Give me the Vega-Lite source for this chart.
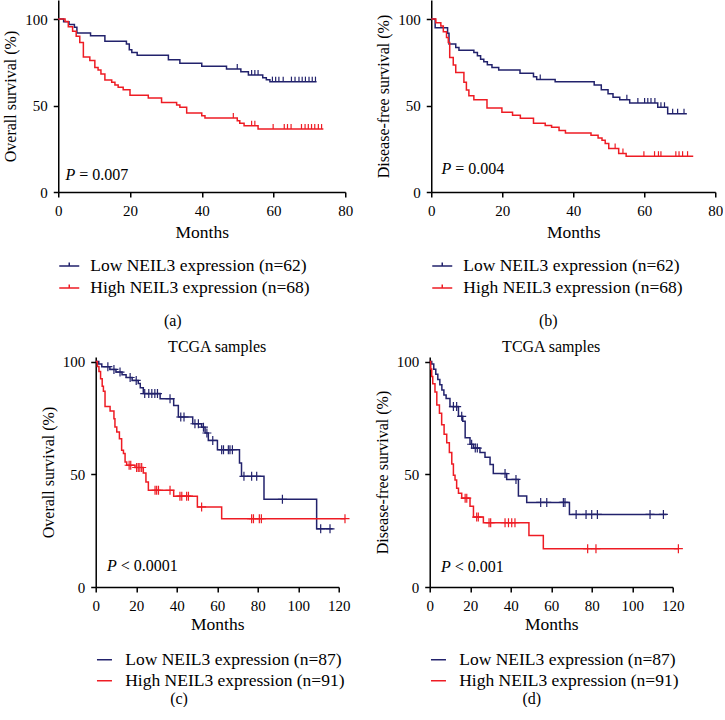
{
"$schema":"https://vega.github.io/schema/vega-lite/v6.json",
"padding":{"left":2,"top":0,"right":0,"bottom":0},
"background":"white",
"config":{
 "font":"Liberation Serif",
 "view":{"stroke":null},
 "axis":{"grid":false,"domainColor":"black","tickColor":"black","labelColor":"black","titleColor":"black","domainWidth":1.5,"tickWidth":1.5,"tickSize":5,"labelFontSize":15,"titleFontSize":16,"titleFontWeight":"normal","labelPadding":6,"labelFont":"Liberation Serif","titleFont":"Liberation Serif","labelFlush":false},
 "axisX":{"titleFontSize":17.5,"titlePadding":5,"titleFontWeight":"normal"},
 "axisY":{"titlePadding":6,"titleFontWeight":"normal"},
 "legend":{"orient":"bottom","direction":"vertical","labelFontSize":17.5,"labelFont":"Liberation Serif","labelColor":"black","symbolStrokeWidth":1.5,"rowPadding":2,"offset":14,"labelLimit":400},
 "title":{"font":"Liberation Serif","fontSize":16,"fontWeight":"normal","color":"black"}
},
"datasets":{
 "a":[
  {"g":"L","t":0,"s":100,"c":0},{"g":"L","t":1.5,"s":98.4,"c":0},{"g":"L","t":3,"s":96.8,"c":0},{"g":"L","t":4.5,"s":95.2,"c":0},{"g":"L","t":5.2,"s":91.9,"c":0},{"g":"L","t":9,"s":90.3,"c":0},{"g":"L","t":13,"s":87.1,"c":0},{"g":"L","t":19,"s":85.5,"c":0},{"g":"L","t":19.8,"s":82.3,"c":0},{"g":"L","t":20.5,"s":80.6,"c":0},{"g":"L","t":22,"s":79,"c":0},{"g":"L","t":30.7,"s":76.5,"c":0},{"g":"L","t":33.9,"s":74.4,"c":0},{"g":"L","t":40,"s":72.7,"c":0},{"g":"L","t":46.9,"s":71.1,"c":0},{"g":"L","t":49.9,"s":71.1,"c":1},{"g":"L","t":50.9,"s":69.5,"c":0},{"g":"L","t":53,"s":67.6,"c":0},{"g":"L","t":53.9,"s":67.6,"c":1},{"g":"L","t":54.8,"s":67.6,"c":1},{"g":"L","t":55.7,"s":67.6,"c":1},{"g":"L","t":57,"s":66.1,"c":0},{"g":"L","t":58,"s":64.9,"c":0},{"g":"L","t":59,"s":63.8,"c":0},{"g":"L","t":59.7,"s":63.8,"c":1},{"g":"L","t":60.6,"s":63.8,"c":1},{"g":"L","t":61.5,"s":63.8,"c":1},{"g":"L","t":62.7,"s":63.8,"c":1},{"g":"L","t":65,"s":63.8,"c":1},{"g":"L","t":66,"s":63.8,"c":1},{"g":"L","t":67.1,"s":63.8,"c":1},{"g":"L","t":68,"s":63.8,"c":1},{"g":"L","t":68.9,"s":63.8,"c":1},{"g":"L","t":69.9,"s":63.8,"c":1},{"g":"L","t":70.8,"s":63.8,"c":1},{"g":"L","t":71.7,"s":63.8,"c":1},{"g":"L","t":72,"s":63.8,"c":0},
  {"g":"H","t":0,"s":100,"c":0},{"g":"H","t":1.9,"s":98.5,"c":0},{"g":"H","t":2.8,"s":95.5,"c":0},{"g":"H","t":4,"s":93,"c":0},{"g":"H","t":5,"s":90,"c":0},{"g":"H","t":6,"s":86.5,"c":0},{"g":"H","t":7,"s":78,"c":0},{"g":"H","t":8.8,"s":76,"c":0},{"g":"H","t":10.2,"s":72,"c":0},{"g":"H","t":11.1,"s":70.5,"c":0},{"g":"H","t":11.9,"s":68.2,"c":0},{"g":"H","t":13,"s":64.7,"c":0},{"g":"H","t":14.9,"s":63.4,"c":0},{"g":"H","t":15.8,"s":61.8,"c":0},{"g":"H","t":16.7,"s":60.5,"c":0},{"g":"H","t":18.1,"s":59.1,"c":0},{"g":"H","t":20,"s":56,"c":0},{"g":"H","t":25.1,"s":54.3,"c":0},{"g":"H","t":28.8,"s":51.8,"c":0},{"g":"H","t":33,"s":50.3,"c":0},{"g":"H","t":33.9,"s":49,"c":0},{"g":"H","t":35.8,"s":45.7,"c":0},{"g":"H","t":40,"s":44.1,"c":0},{"g":"H","t":40.9,"s":42.8,"c":0},{"g":"H","t":48.8,"s":42.8,"c":1},{"g":"H","t":49.9,"s":41.2,"c":0},{"g":"H","t":50.6,"s":39.7,"c":0},{"g":"H","t":51.8,"s":38.3,"c":0},{"g":"H","t":53.9,"s":38.3,"c":1},{"g":"H","t":54.8,"s":38.3,"c":1},{"g":"H","t":55.7,"s":36.4,"c":0},{"g":"H","t":59.9,"s":36.4,"c":1},{"g":"H","t":63,"s":36.4,"c":1},{"g":"H","t":63.9,"s":36.4,"c":1},{"g":"H","t":64.9,"s":36.4,"c":1},{"g":"H","t":67.8,"s":36.4,"c":1},{"g":"H","t":68.8,"s":36.4,"c":1},{"g":"H","t":69.7,"s":36.4,"c":1},{"g":"H","t":70.6,"s":36.4,"c":1},{"g":"H","t":71.5,"s":36.4,"c":1},{"g":"H","t":72.5,"s":36.4,"c":1},{"g":"H","t":73.4,"s":36.4,"c":1},{"g":"H","t":73.9,"s":36.4,"c":0}
 ],
 "b":[
  {"g":"L","t":0,"s":100,"c":0},{"g":"L","t":1.1,"s":95,"c":0},{"g":"L","t":4.6,"s":91.8,"c":0},{"g":"L","t":5,"s":85.5,"c":0},{"g":"L","t":6.9,"s":83.5,"c":0},{"g":"L","t":7.8,"s":82,"c":0},{"g":"L","t":12,"s":80.6,"c":0},{"g":"L","t":13,"s":78.7,"c":0},{"g":"L","t":13.9,"s":76.8,"c":0},{"g":"L","t":14.8,"s":75.3,"c":0},{"g":"L","t":15.8,"s":73.6,"c":0},{"g":"L","t":17.1,"s":72,"c":0},{"g":"L","t":19,"s":70.5,"c":0},{"g":"L","t":25,"s":68.6,"c":0},{"g":"L","t":28.8,"s":66.7,"c":0},{"g":"L","t":29.7,"s":65.1,"c":0},{"g":"L","t":30.7,"s":65.1,"c":1},{"g":"L","t":34.9,"s":63.8,"c":0},{"g":"L","t":45.9,"s":61.9,"c":0},{"g":"L","t":47.9,"s":59.1,"c":0},{"g":"L","t":49.8,"s":56.8,"c":0},{"g":"L","t":51.2,"s":54.8,"c":0},{"g":"L","t":53.1,"s":53.4,"c":0},{"g":"L","t":55.1,"s":53.4,"c":1},{"g":"L","t":55.9,"s":51.5,"c":0},{"g":"L","t":58.2,"s":51.5,"c":1},{"g":"L","t":60.1,"s":51.5,"c":1},{"g":"L","t":61,"s":51.5,"c":1},{"g":"L","t":61.9,"s":51.5,"c":1},{"g":"L","t":63,"s":51.5,"c":1},{"g":"L","t":63.8,"s":49,"c":0},{"g":"L","t":64.7,"s":49,"c":1},{"g":"L","t":65.7,"s":49,"c":1},{"g":"L","t":66.6,"s":45.2,"c":0},{"g":"L","t":68,"s":45.2,"c":1},{"g":"L","t":69.4,"s":45.2,"c":1},{"g":"L","t":71.2,"s":45.2,"c":1},{"g":"L","t":72,"s":45.2,"c":0},
  {"g":"H","t":0,"s":100,"c":0},{"g":"H","t":1.3,"s":97.9,"c":0},{"g":"H","t":2.7,"s":96,"c":0},{"g":"H","t":3.4,"s":92.7,"c":0},{"g":"H","t":4.3,"s":89.3,"c":0},{"g":"H","t":4.8,"s":86.4,"c":0},{"g":"H","t":5.2,"s":77.8,"c":0},{"g":"H","t":6.2,"s":73.4,"c":0},{"g":"H","t":6.9,"s":69.1,"c":0},{"g":"H","t":9.2,"s":63.4,"c":0},{"g":"H","t":9.9,"s":59,"c":0},{"g":"H","t":10.6,"s":55.7,"c":0},{"g":"H","t":12,"s":53.3,"c":0},{"g":"H","t":15.7,"s":48.5,"c":0},{"g":"H","t":19.9,"s":46.1,"c":0},{"g":"H","t":22.9,"s":44.3,"c":0},{"g":"H","t":25.1,"s":42.7,"c":0},{"g":"H","t":28.8,"s":39.8,"c":0},{"g":"H","t":32.1,"s":38.5,"c":0},{"g":"H","t":33.9,"s":37.5,"c":0},{"g":"H","t":36,"s":35.6,"c":0},{"g":"H","t":37.8,"s":34.1,"c":0},{"g":"H","t":45,"s":32.8,"c":0},{"g":"H","t":47,"s":31.2,"c":0},{"g":"H","t":48.1,"s":29.9,"c":0},{"g":"H","t":49,"s":28,"c":0},{"g":"H","t":50,"s":25.1,"c":0},{"g":"H","t":51.8,"s":25.1,"c":1},{"g":"H","t":52.8,"s":22.2,"c":0},{"g":"H","t":54,"s":22.2,"c":1},{"g":"H","t":54.9,"s":20.7,"c":0},{"g":"H","t":59.9,"s":20.7,"c":1},{"g":"H","t":62.9,"s":20.7,"c":1},{"g":"H","t":64,"s":20.7,"c":1},{"g":"H","t":64.7,"s":20.7,"c":1},{"g":"H","t":68.9,"s":20.7,"c":1},{"g":"H","t":69.8,"s":20.7,"c":1},{"g":"H","t":70.8,"s":20.7,"c":1},{"g":"H","t":72.2,"s":20.7,"c":1},{"g":"H","t":73.8,"s":20.7,"c":0}
 ],
 "c":[
  {"g":"L","t":0,"s":100,"c":0},{"g":"L","t":1.5,"s":98.9,"c":0},{"g":"L","t":3,"s":97.7,"c":0},{"g":"L","t":6,"s":97.7,"c":1},{"g":"L","t":7,"s":96.5,"c":0},{"g":"L","t":9,"s":96.5,"c":1},{"g":"L","t":10,"s":95.3,"c":0},{"g":"L","t":12,"s":95.3,"c":1},{"g":"L","t":13,"s":94.1,"c":0},{"g":"L","t":15,"s":92.9,"c":0},{"g":"L","t":17,"s":92.9,"c":1},{"g":"L","t":18,"s":91.6,"c":0},{"g":"L","t":20,"s":91.6,"c":1},{"g":"L","t":21,"s":90.3,"c":0},{"g":"L","t":22,"s":88.4,"c":0},{"g":"L","t":23.5,"s":85.8,"c":0},{"g":"L","t":24.2,"s":85.8,"c":1},{"g":"L","t":26.2,"s":85.8,"c":1},{"g":"L","t":27.7,"s":85.8,"c":1},{"g":"L","t":29.2,"s":85.8,"c":1},{"g":"L","t":30.5,"s":85.8,"c":1},{"g":"L","t":31.8,"s":83.5,"c":0},{"g":"L","t":36.7,"s":83.5,"c":1},{"g":"L","t":38.5,"s":80.5,"c":0},{"g":"L","t":40.8,"s":75.4,"c":0},{"g":"L","t":42,"s":75.4,"c":1},{"g":"L","t":43.6,"s":75.4,"c":1},{"g":"L","t":47.9,"s":72.4,"c":0},{"g":"L","t":49,"s":72.4,"c":1},{"g":"L","t":50.7,"s":72.4,"c":1},{"g":"L","t":52.3,"s":70.9,"c":0},{"g":"L","t":53.2,"s":70.9,"c":1},{"g":"L","t":54,"s":68.3,"c":0},{"g":"L","t":54.9,"s":68.3,"c":1},{"g":"L","t":55.6,"s":65,"c":0},{"g":"L","t":57.8,"s":65,"c":1},{"g":"L","t":60.1,"s":60.9,"c":0},{"g":"L","t":62.2,"s":60.9,"c":1},{"g":"L","t":63.1,"s":60.9,"c":1},{"g":"L","t":65.5,"s":60.9,"c":1},{"g":"L","t":66.3,"s":60.9,"c":1},{"g":"L","t":67.5,"s":60.9,"c":1},{"g":"L","t":71,"s":55,"c":0},{"g":"L","t":72,"s":49.1,"c":0},{"g":"L","t":73.2,"s":49.1,"c":1},{"g":"L","t":77,"s":49.1,"c":1},{"g":"L","t":79.5,"s":49.1,"c":1},{"g":"L","t":83.1,"s":38.9,"c":0},{"g":"L","t":92.2,"s":38.9,"c":1},{"g":"L","t":109.1,"s":25.8,"c":0},{"g":"L","t":111.1,"s":25.8,"c":1},{"g":"L","t":115.7,"s":25.8,"c":1},{"g":"L","t":117,"s":25.8,"c":0},
  {"g":"H","t":0,"s":100,"c":0},{"g":"H","t":0.8,"s":97.8,"c":0},{"g":"H","t":1.6,"s":95.6,"c":0},{"g":"H","t":2.4,"s":92.3,"c":0},{"g":"H","t":3.2,"s":89,"c":0},{"g":"H","t":3.8,"s":86.8,"c":0},{"g":"H","t":4.6,"s":80,"c":0},{"g":"H","t":7.1,"s":78,"c":0},{"g":"H","t":9,"s":74.6,"c":0},{"g":"H","t":9.5,"s":71,"c":0},{"g":"H","t":10.4,"s":68.7,"c":0},{"g":"H","t":11.7,"s":65.8,"c":0},{"g":"H","t":12.8,"s":60.6,"c":0},{"g":"H","t":13.7,"s":59.2,"c":0},{"g":"H","t":14.5,"s":55.4,"c":0},{"g":"H","t":15.3,"s":54,"c":0},{"g":"H","t":16.5,"s":54,"c":1},{"g":"H","t":17.3,"s":54,"c":1},{"g":"H","t":19.4,"s":53,"c":0},{"g":"H","t":20.2,"s":53,"c":1},{"g":"H","t":21,"s":53,"c":1},{"g":"H","t":21.8,"s":53,"c":1},{"g":"H","t":22.7,"s":53,"c":1},{"g":"H","t":23.5,"s":50.6,"c":0},{"g":"H","t":24.8,"s":46.6,"c":0},{"g":"H","t":26,"s":42.9,"c":0},{"g":"H","t":29.3,"s":42.9,"c":1},{"g":"H","t":30.1,"s":42.9,"c":1},{"g":"H","t":31,"s":42.9,"c":1},{"g":"H","t":36.7,"s":42.9,"c":1},{"g":"H","t":38.5,"s":40.3,"c":0},{"g":"H","t":41.6,"s":40.3,"c":1},{"g":"H","t":42.5,"s":40.3,"c":1},{"g":"H","t":44.9,"s":40.3,"c":1},{"g":"H","t":45.8,"s":40.3,"c":1},{"g":"H","t":50.2,"s":35.5,"c":0},{"g":"H","t":52.3,"s":35.5,"c":1},{"g":"H","t":62.2,"s":30.3,"c":0},{"g":"H","t":77,"s":30.3,"c":1},{"g":"H","t":77.9,"s":30.3,"c":1},{"g":"H","t":80.8,"s":30.3,"c":1},{"g":"H","t":81.8,"s":30.3,"c":1},{"g":"H","t":123.1,"s":30.3,"c":1}
 ],
 "d":[
  {"g":"L","t":0,"s":100,"c":0},{"g":"L","t":1,"s":98.9,"c":0},{"g":"L","t":2,"s":96.6,"c":0},{"g":"L","t":3,"s":94.3,"c":0},{"g":"L","t":4,"s":92,"c":0},{"g":"L","t":5,"s":89.7,"c":0},{"g":"L","t":6,"s":87.4,"c":0},{"g":"L","t":7,"s":85.1,"c":0},{"g":"L","t":8.1,"s":83.6,"c":0},{"g":"L","t":10,"s":80,"c":0},{"g":"L","t":11.7,"s":80,"c":1},{"g":"L","t":13.3,"s":80,"c":1},{"g":"L","t":14.2,"s":75.7,"c":0},{"g":"L","t":15.8,"s":75.7,"c":1},{"g":"L","t":16.3,"s":73.5,"c":0},{"g":"L","t":17.5,"s":66.2,"c":0},{"g":"L","t":19.9,"s":63.3,"c":0},{"g":"L","t":20.7,"s":63.3,"c":1},{"g":"L","t":21.6,"s":61.6,"c":0},{"g":"L","t":22.5,"s":61.6,"c":1},{"g":"L","t":23.5,"s":61.6,"c":1},{"g":"L","t":24.8,"s":59.7,"c":0},{"g":"L","t":27.3,"s":57.5,"c":0},{"g":"L","t":29.8,"s":54.3,"c":0},{"g":"L","t":31.4,"s":50.3,"c":0},{"g":"L","t":37.2,"s":50.3,"c":1},{"g":"L","t":38,"s":47.7,"c":0},{"g":"L","t":42.6,"s":47.7,"c":1},{"g":"L","t":43.8,"s":40.4,"c":0},{"g":"L","t":47.9,"s":37.5,"c":0},{"g":"L","t":54.8,"s":37.5,"c":1},{"g":"L","t":57.8,"s":37.5,"c":1},{"g":"L","t":66,"s":37.5,"c":1},{"g":"L","t":66.8,"s":37.5,"c":1},{"g":"L","t":69,"s":32.2,"c":0},{"g":"L","t":72.3,"s":32.2,"c":1},{"g":"L","t":77.2,"s":32.2,"c":1},{"g":"L","t":80,"s":32.2,"c":1},{"g":"L","t":82.8,"s":32.2,"c":1},{"g":"L","t":108.8,"s":32.2,"c":1},{"g":"L","t":115.4,"s":32.2,"c":1},{"g":"L","t":117,"s":32.2,"c":0},
  {"g":"H","t":0,"s":100,"c":0},{"g":"H","t":0.5,"s":96.7,"c":0},{"g":"H","t":1,"s":93.4,"c":0},{"g":"H","t":1.5,"s":90.1,"c":0},{"g":"H","t":2.6,"s":86.5,"c":0},{"g":"H","t":3.5,"s":80.7,"c":0},{"g":"H","t":4.8,"s":77,"c":0},{"g":"H","t":5.9,"s":72,"c":0},{"g":"H","t":7.1,"s":67.7,"c":0},{"g":"H","t":8.4,"s":64,"c":0},{"g":"H","t":9.7,"s":59.7,"c":0},{"g":"H","t":10.9,"s":54.6,"c":0},{"g":"H","t":11.7,"s":49.6,"c":0},{"g":"H","t":12.5,"s":47.4,"c":0},{"g":"H","t":13.3,"s":43.8,"c":0},{"g":"H","t":14.2,"s":41.6,"c":0},{"g":"H","t":15.8,"s":39.4,"c":0},{"g":"H","t":17.5,"s":39.4,"c":1},{"g":"H","t":18.3,"s":39.4,"c":1},{"g":"H","t":19.9,"s":35.8,"c":0},{"g":"H","t":21.6,"s":31,"c":0},{"g":"H","t":23.2,"s":31,"c":1},{"g":"H","t":24,"s":31,"c":1},{"g":"H","t":26.5,"s":28.5,"c":0},{"g":"H","t":29.3,"s":28.5,"c":1},{"g":"H","t":30.1,"s":28.5,"c":1},{"g":"H","t":37.2,"s":28.5,"c":1},{"g":"H","t":38.9,"s":28.5,"c":1},{"g":"H","t":40.5,"s":28.5,"c":1},{"g":"H","t":42.1,"s":28.5,"c":1},{"g":"H","t":49,"s":22.8,"c":0},{"g":"H","t":56.1,"s":17,"c":0},{"g":"H","t":78,"s":17,"c":1},{"g":"H","t":82.1,"s":17,"c":1},{"g":"H","t":122.8,"s":17,"c":1}
 ]
},
"spacing":9,
"center":true,
"resolve":{"scale":{"color":"independent"},"legend":{"color":"independent"}},
"vconcat":[
 {"hconcat":[
  {"title":{"text":"(a)","orient":"bottom","anchor":"middle","frame":"bounds","offset":16,"dx":-5},
   "resolve":{"scale":{"color":"independent"},"legend":{"color":"independent"}},
   "vconcat":[{
    "width":287,"height":192,
    "data":{"name":"a"},
    "encoding":{
     "x":{"field":"t","type":"quantitative","scale":{"domain":[0,80],"nice":false},"axis":{"values":[0,20,40,60,80],"title":"Months","titleFontWeight":"normal"}},
     "y":{"field":"s","type":"quantitative","scale":{"domain":[0,111],"nice":false},"axis":{"values":[0,50,100],"title":"Overall survival (%)","titleFontWeight":"normal"}}
    },
    "layer":[
     {"mark":{"type":"line","interpolate":"step-after","strokeWidth":1.5,"clip":false},
      "encoding":{"color":{"field":"g","type":"nominal","scale":{"domain":["L","H"],"range":["#22226c","#ee1c24"]},"legend":{"title":null,"symbolType":"M-1,0H1M0,0V-0.35","symbolSize":400,"labelOffset":10,"labelExpr":"datum.label == 'L' ? 'Low NEIL3 expression (n=62)' : 'High NEIL3 expression (n=68)'"}}}},
     {"transform":[{"filter":"datum.c == 1"}],
      "mark":{"type":"point","shape":"M0,0V-1","size":100,"strokeWidth":1.2,"opacity":1,"filled":false},
      "encoding":{"color":{"field":"g","type":"nominal","scale":{"domain":["L","H"],"range":["#22226c","#ee1c24"]},"legend":{"title":null,"symbolType":"M-1,0H1M0,0V-0.35","symbolSize":400,"labelOffset":10,"labelExpr":"datum.label == 'L' ? 'Low NEIL3 expression (n=62)' : 'High NEIL3 expression (n=68)'"}}}},
     {"data":{"values":[{"t":5,"s":9.8}]},"mark":{"type":"text","text":"P","fontStyle":"italic","align":"right","dx":-1,"fontSize":16,"color":"black"}},
     {"data":{"values":[{"t":5,"s":9.8}]},"mark":{"type":"text","text":"= 0.007","align":"left","dx":3,"fontSize":16,"color":"black"}}
    ]
   }]
  },
  {"title":{"text":"(b)","orient":"bottom","anchor":"middle","frame":"bounds","offset":16,"dx":-1},
   "resolve":{"scale":{"color":"independent"},"legend":{"color":"independent"}},
   "vconcat":[{
    "width":284,"height":192,
    "data":{"name":"b"},
    "encoding":{
     "x":{"field":"t","type":"quantitative","scale":{"domain":[0,80],"nice":false},"axis":{"values":[0,20,40,60,80],"title":"Months","titleFontWeight":"normal"}},
     "y":{"field":"s","type":"quantitative","scale":{"domain":[0,111],"nice":false},"axis":{"values":[0,50,100],"title":"Disease-free survival (%)","titleFontWeight":"normal"}}
    },
    "layer":[
     {"mark":{"type":"line","interpolate":"step-after","strokeWidth":1.5,"clip":false},
      "encoding":{"color":{"field":"g","type":"nominal","scale":{"domain":["L","H"],"range":["#22226c","#ee1c24"]},"legend":{"title":null,"symbolType":"M-1,0H1M0,0V-0.35","symbolSize":400,"labelOffset":10,"labelExpr":"datum.label == 'L' ? 'Low NEIL3 expression (n=62)' : 'High NEIL3 expression (n=68)'"}}}},
     {"transform":[{"filter":"datum.c == 1"}],
      "mark":{"type":"point","shape":"M0,0V-1","size":100,"strokeWidth":1.2,"opacity":1,"filled":false},
      "encoding":{"color":{"field":"g","type":"nominal","scale":{"domain":["L","H"],"range":["#22226c","#ee1c24"]},"legend":{"title":null,"symbolType":"M-1,0H1M0,0V-0.35","symbolSize":400,"labelOffset":10,"labelExpr":"datum.label == 'L' ? 'Low NEIL3 expression (n=62)' : 'High NEIL3 expression (n=68)'"}}}},
     {"data":{"values":[{"t":5.9,"s":13.2}]},"mark":{"type":"text","text":"P","fontStyle":"italic","align":"right","dx":-1,"fontSize":16,"color":"black"}},
     {"data":{"values":[{"t":5.9,"s":13.2}]},"mark":{"type":"text","text":"= 0.004","align":"left","dx":3,"fontSize":16,"color":"black"}}
    ]
   }]
  }
 ],"spacing":22,"resolve":{"scale":{"color":"independent"},"legend":{"color":"independent"}}},
 {"hconcat":[
  {"title":{"text":"(c)","orient":"bottom","anchor":"middle","frame":"bounds","offset":1,"dx":-17},
   "resolve":{"scale":{"color":"independent"},"legend":{"color":"independent"}},
   "vconcat":[{
    "width":243,"height":230,
    "title":{"text":"TCGA samples","anchor":"middle","frame":"group","offset":0},
    "data":{"name":"c"},
    "encoding":{
     "x":{"field":"t","type":"quantitative","scale":{"domain":[0,120],"nice":false},"axis":{"values":[0,20,40,60,80,100,120],"title":"Months","titleFontWeight":"normal","titlePadding":2}},
     "y":{"field":"s","type":"quantitative","scale":{"domain":[0,102],"nice":false},"axis":{"values":[0,50,100],"title":"Overall survival (%)","titleFontWeight":"normal"}}
    },
    "layer":[
     {"mark":{"type":"line","interpolate":"step-after","strokeWidth":1.5,"clip":false},
      "encoding":{"color":{"field":"g","type":"nominal","scale":{"domain":["L","H"],"range":["#22226c","#ee1c24"]},"legend":{"title":null,"offset":18,"symbolType":"M-1,0H1","symbolSize":225,"labelOffset":12,"labelExpr":"datum.label == 'L' ? 'Low NEIL3 expression (n=87)' : 'High NEIL3 expression (n=91)'"}}}},
     {"transform":[{"filter":"datum.c == 1"}],
      "mark":{"type":"point","shape":"M-1,0H1M0,-1V1","size":81,"strokeWidth":1.2,"opacity":1,"filled":false,"clip":false},
      "encoding":{"color":{"field":"g","type":"nominal","scale":{"domain":["L","H"],"range":["#22226c","#ee1c24"]},"legend":{"title":null,"offset":18,"symbolType":"M-1,0H1","symbolSize":225,"labelOffset":12,"labelExpr":"datum.label == 'L' ? 'Low NEIL3 expression (n=87)' : 'High NEIL3 expression (n=91)'"}}}},
     {"data":{"values":[{"t":10.9,"s":9.3}]},"mark":{"type":"text","text":"P","fontStyle":"italic","align":"right","dx":-1,"fontSize":16,"color":"black"}},
     {"data":{"values":[{"t":10.9,"s":9.3}]},"mark":{"type":"text","text":"< 0.0001","align":"left","dx":3,"fontSize":16,"color":"black"}}
    ]
   }]
  },
  {"title":{"text":"(d)","orient":"bottom","anchor":"middle","frame":"bounds","offset":1,"dx":2},
   "resolve":{"scale":{"color":"independent"},"legend":{"color":"independent"}},
   "vconcat":[{
    "width":243,"height":230,
    "title":{"text":"TCGA samples","anchor":"middle","frame":"group","offset":0},
    "data":{"name":"d"},
    "encoding":{
     "x":{"field":"t","type":"quantitative","scale":{"domain":[0,120],"nice":false},"axis":{"values":[0,20,40,60,80,100,120],"title":"Months","titleFontWeight":"normal","titlePadding":2}},
     "y":{"field":"s","type":"quantitative","scale":{"domain":[0,102],"nice":false},"axis":{"values":[0,50,100],"title":"Disease-free survival (%)","titleFontWeight":"normal"}}
    },
    "layer":[
     {"mark":{"type":"line","interpolate":"step-after","strokeWidth":1.5,"clip":false},
      "encoding":{"color":{"field":"g","type":"nominal","scale":{"domain":["L","H"],"range":["#22226c","#ee1c24"]},"legend":{"title":null,"offset":18,"symbolType":"M-1,0H1","symbolSize":225,"labelOffset":12,"labelExpr":"datum.label == 'L' ? 'Low NEIL3 expression (n=87)' : 'High NEIL3 expression (n=91)'"}}}},
     {"transform":[{"filter":"datum.c == 1"}],
      "mark":{"type":"point","shape":"M-1,0H1M0,-1V1","size":81,"strokeWidth":1.2,"opacity":1,"filled":false,"clip":false},
      "encoding":{"color":{"field":"g","type":"nominal","scale":{"domain":["L","H"],"range":["#22226c","#ee1c24"]},"legend":{"title":null,"offset":18,"symbolType":"M-1,0H1","symbolSize":225,"labelOffset":12,"labelExpr":"datum.label == 'L' ? 'Low NEIL3 expression (n=87)' : 'High NEIL3 expression (n=91)'"}}}},
     {"data":{"values":[{"t":10.9,"s":8.7}]},"mark":{"type":"text","text":"P","fontStyle":"italic","align":"right","dx":-1,"fontSize":16,"color":"black"}},
     {"data":{"values":[{"t":10.9,"s":8.7}]},"mark":{"type":"text","text":"< 0.001","align":"left","dx":3,"fontSize":16,"color":"black"}}
    ]
   }]
  }
 ],"spacing":21,"resolve":{"scale":{"color":"independent"},"legend":{"color":"independent"}}}
]
}
